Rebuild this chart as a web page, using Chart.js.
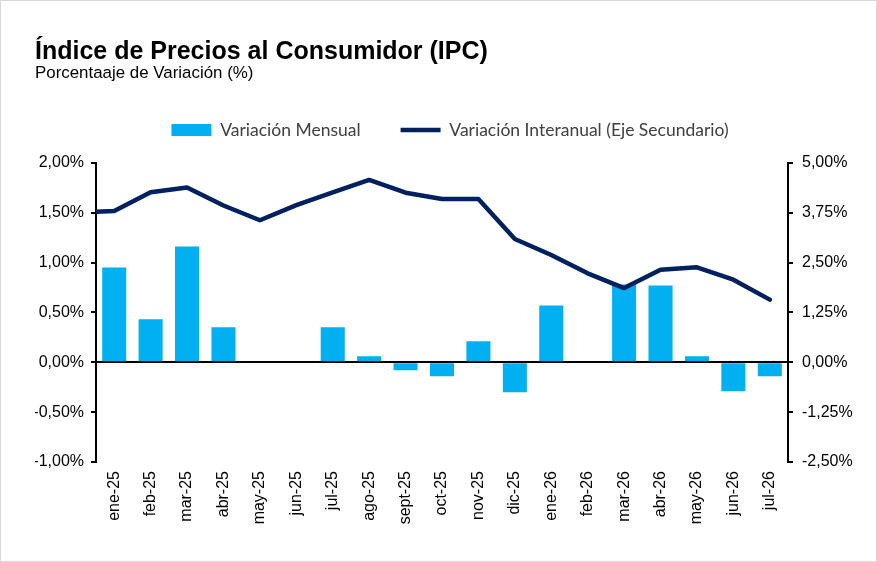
<!DOCTYPE html>
<html>
<head>
<meta charset="utf-8">
<script src="https://cdn.jsdelivr.net/npm/chart.js@4"></script>
<style>
html,body{margin:0;padding:0;background:#fff;}
#wrap{position:relative;width:877px;height:562px;}
#wrap:after{content:"";position:absolute;left:0;top:0;width:875px;height:560px;border:1px solid #d9d9d9;pointer-events:none;}
canvas{display:block;}
</style>
</head>
<body>
<div id="wrap"><canvas id="c" width="877" height="562"></canvas></div>
<script>
const months = ["ene-25","feb-25","mar-25","abr-25","may-25","jun-25","jul-25","ago-25","sept-25","oct-25","nov-25","dic-25","ene-26","feb-26","mar-26","abr-26","may-26","jun-26","jul-26"];
const mensual = [0.95,0.43,1.16,0.35,0,0,0.35,0.06,-0.08,-0.14,0.21,-0.30,0.57,0,0.78,0.77,0.06,-0.29,-0.14];
const interanual = [3.79,4.26,4.38,3.93,3.56,3.94,4.26,4.57,4.25,4.09,4.09,3.09,2.69,2.23,1.86,2.32,2.38,2.07,1.57];
const interanualPrevio = 3.76; // dic-24, fuera del área visible
const leftTicks = {min:-1, max:2, step:0.5};
const rightTicks = {min:-2.5, max:5, step:1.25};
const titleText = "Índice de Precios al Consumidor (IPC)";
const subtitleText = "Porcentaaje de Variación (%)";
const seriesNames = ["Variación Mensual","Variación Interanual (Eje Secundario)"];

const fmt = v => v.toFixed(2).replace('.', ',') + '%';
const lineData = [{x:-1, y:interanualPrevio}].concat(interanual.map((v,i)=>({x:i, y:v})));
const tickFont = {family:"'Liberation Sans', Arial, sans-serif", size:16};

new Chart(document.getElementById('c'), {
  data: {
    labels: months,
    datasets: [
      {type:'bar', label:seriesNames[0], data:mensual, backgroundColor:'#00B0F0', borderWidth:0,
       barPercentage:0.66, categoryPercentage:1.0, grouped:false, xAxisID:'x', yAxisID:'y', pointStyle:'rect', order:2},
      {type:'line', label:seriesNames[1], data:lineData, borderColor:'#002060', backgroundColor:'#002060',
       borderWidth:4.5, pointRadius:0, tension:0, borderJoinStyle:'round', borderCapStyle:'round',
       xAxisID:'x2', yAxisID:'y1', pointStyle:'line', order:1, clip:{left:0,right:5,top:5,bottom:5}}
    ]
  },
  options: {
    responsive:false, animation:false, devicePixelRatio:1,
    layout:{padding:{left:35,right:12,top:22,bottom:0}},
    plugins:{
      tooltip:{enabled:false},
      title:{display:true, text:titleText, align:'start', color:'#000',
             font:{family:"'Liberation Sans', Arial, sans-serif", size:25, weight:'bold', lineHeight:1.2},
             padding:{top:15,bottom:0}},
      subtitle:{display:true, text:subtitleText, align:'start', color:'#000',
             font:{family:"'Liberation Sans', Arial, sans-serif", size:16.9, lineHeight:1.2},
             padding:{top:-4,bottom:-2}},
      legend:{display:true, position:'top', align:'center',
        labels:{usePointStyle:true, pointStyleWidth:40, boxWidth:40, boxHeight:12, padding:40, color:'#404040',
                sort:(a,b)=>a.datasetIndex-b.datasetIndex,
                font:{family:"Lato, 'Open Sans', sans-serif", size:17.5, lineHeight:1.2}}}
    },
    scales:{
      x:{type:'category', position:'bottom', offset:true,
         grid:{display:false}, border:{display:false},
         ticks:{color:'#000', font:tickFont, minRotation:90, maxRotation:90, padding:1, autoSkip:false},
         afterFit:s=>{s.height=100;}},
      x2:{type:'linear', position:'top', min:-0.5, max:18.5, display:true,
          grid:{display:false}, border:{display:false}, ticks:{display:false},
          afterFit:s=>{s.height=14;}},
      y:{type:'linear', position:'left', min:leftTicks.min, max:leftTicks.max,
         ticks:{stepSize:leftTicks.step, color:'#000', font:tickFont, padding:7, callback:v=>fmt(v)},
         grid:{drawOnChartArea:true, color:c=>(c.tick && c.tick.value===0)?'#000':'rgba(0,0,0,0)', lineWidth:2,
               tickColor:'#000', tickLength:5, drawTicks:true},
         border:{display:true, color:'#000', width:2},
         afterFit:s=>{s.width=61;}},
      y1:{type:'linear', position:'right', min:rightTicks.min, max:rightTicks.max,
         ticks:{stepSize:rightTicks.step, color:'#000', font:tickFont, padding:9, callback:v=>fmt(v)},
         grid:{drawOnChartArea:false, tickColor:'#000', tickLength:5, lineWidth:2},
         border:{display:true, color:'#000', width:2},
         afterFit:s=>{s.width=77;}}
    }
  }
});
</script>
</body>
</html>
